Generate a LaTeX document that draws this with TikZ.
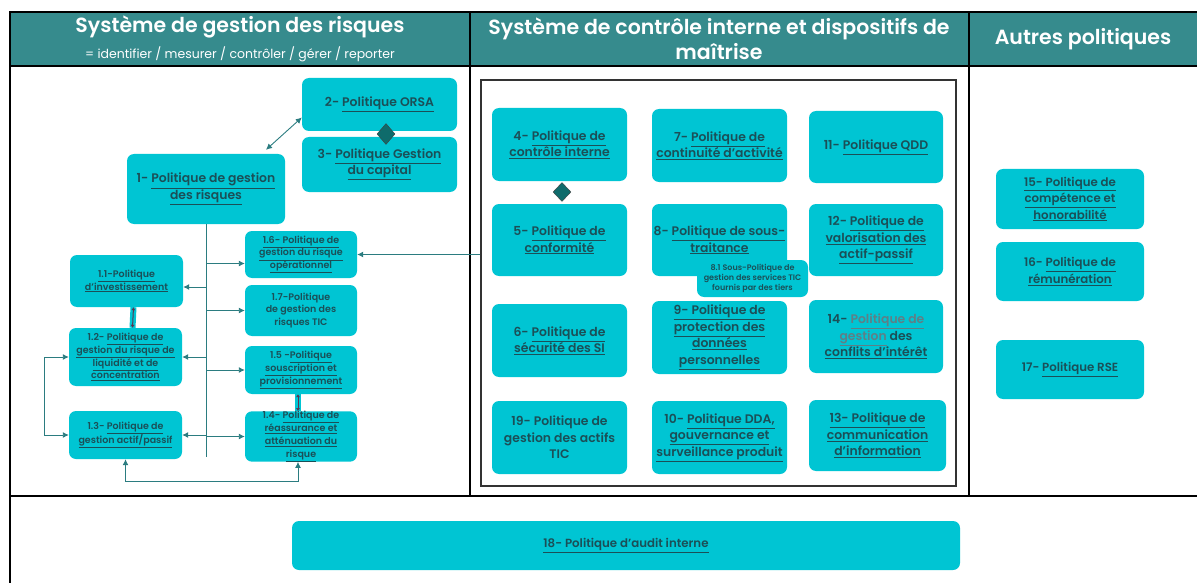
\documentclass[tikz,border=0pt]{standalone}
\usepackage{fontspec}
\setmainfont{Poppins}
\newfontfamily\semi{Poppins}[UprightFont={* SemiBold}]
\usetikzlibrary{positioning, shapes.geometric, arrows.meta}

\definecolor{headteal}{HTML}{368B8D}
\definecolor{boxcyan}{HTML}{00C5D3}
\definecolor{txtteal}{HTML}{1B4F57}
\definecolor{txtgray}{HTML}{5F7F86}
\definecolor{arrteal}{HTML}{2B7C80}
\definecolor{diamteal}{HTML}{0F6B6B}
\definecolor{arrplum}{HTML}{5A3552}
\newcommand{\lien}[1]{\underline{#1}}

\tikzset{
  pol/.style={rounded corners=7pt, fill=boxcyan, text=txtteal, align=center, inner sep=0pt},
  bigtxt/.style={font=\semi\fontsize{12.4}{16.5}\selectfont},
  smalltxt/.style={font=\semi\fontsize{9.5}{12.8}\selectfont},
  sidetxt/.style={font=\semi\fontsize{11.8}{16.5}\selectfont},
  leftbox/.style={pol, smalltxt, minimum width=112pt, minimum height=48pt},
  midbox/.style={pol, bigtxt, minimum width=135pt, minimum height=72pt},
  sidebox/.style={pol, sidetxt, minimum width=148pt, minimum height=59pt},
  arr/.style={draw=arrteal, line width=0.9pt, -{Latex[length=6pt,width=6pt]}},
  dblarr/.style={draw=arrteal, line width=0.9pt, {Latex[length=6pt,width=6pt]}-{Latex[length=6pt,width=6pt]}},
  tinyarr/.style={draw=arrplum, line width=1pt, {Latex[length=3pt,width=4pt]}-{Latex[length=3pt,width=4pt]},
    preaction={draw=boxcyan, line width=6pt, arrows=-}},
  joint/.style={diamond, draw=black!75, fill=diamteal, minimum width=18pt, minimum height=21pt, inner sep=0pt},
  headtxt/.style={text=white, font=\semi\fontsize{20.5}{25}\selectfont, align=center},
  rule/.style={line width=1.2pt},
}

\begin{document}
\begin{tikzpicture}[x=1pt, y=-1pt]
\useasboundingbox (0,0) rectangle (1197,583);

% table
\fill[headteal] (10,12) rectangle (1197,66);
\draw[rule] (1197,12) -- (10,12) -- (10,583);
\draw[rule] (10,66) -- (1197,66);
\draw[rule] (470,12) -- (470,496);
\draw[rule] (969,12) -- (969,496);
\draw[rule] (10,496) -- (1197,496);

\node[headtxt] (head1) at (240,27) {Système de gestion des risques};
\node[text=white, font=\fontsize{12.5}{14}\selectfont] (head1sub) at (240,54) {= identifier / mesurer / contrôler / gérer / reporter};
\node[headtxt] (head2) at (719,39) {Système de contrôle interne et dispositifs de\\maîtrise};
\node[headtxt] (head3) at (1083,39) {Autres politiques};

% systeme de gestion des risques
\node[pol, bigtxt, minimum width=155pt, minimum height=53pt] at (379.5,104.5) (orsa) {2- \lien{Politique ORSA}};
\node[pol, bigtxt, minimum width=155pt, minimum height=55pt] at (379.5,164.5) (capital) {3- \lien{Politique Gestion}\\\lien{du capital}};
\node[joint] at (386,134) (join23) {};
\node[pol, bigtxt, minimum width=158pt, minimum height=70pt] at (206,189) (pgr) {1- \lien{Politique de gestion}\\\lien{des risques}};

\node[leftbox, minimum height=47pt] at (301,254.5) (risqop) {\lien{1.6- Politique de}\\\lien{gestion du risque}\\\lien{opérationnel}};
\node[leftbox, minimum width=113pt, minimum height=52pt] at (126.5,281) (invest) {\lien{1.1-Politique}\\\lien{d’investissement}};
\node[leftbox, minimum height=51pt] at (301,310.5) (tic) {1.7-Politique\\de gestion des\\risques TIC};
\node[leftbox, minimum width=113pt, minimum height=58pt] at (125.5,357) (liquid) {1.2- \lien{Politique de}\\\lien{gestion du risque de}\\\lien{liquidité et de}\\\lien{concentration}};
\node[leftbox] at (301,370) (souscr) {1.5 -\lien{Politique}\\\lien{souscription et}\\\lien{provisionnement}};
\node[leftbox, minimum width=113pt] at (125.5,435) (actpas) {1.3- \lien{Politique de}\\\lien{gestion actif/passif}};
\node[leftbox, minimum height=49pt] at (301,436.5) (reass) {1.4- \lien{Politique de}\\\lien{réassurance et}\\\lien{atténuation du}\\\lien{risque}};

\coordinate (trunk) at (206,457);
\coordinate (risqopin) at ([yshift=-9pt]risqop.west);
\coordinate (investin) at ([yshift=-6pt]invest.east);
\draw[draw=arrteal, line width=0.9pt] (pgr.south) -- (trunk);
\draw[arr] (trunk |- risqopin) -- (risqopin);
\draw[arr] (trunk |- investin) -- (investin);
\draw[arr] (trunk |- tic.west) -- (tic.west);
\draw[arr] (trunk |- liquid.east) -- (liquid.east);
\draw[arr] (trunk |- souscr.west) -- (souscr.west);
\draw[arr] (trunk |- actpas.east) -- (actpas.east);
\draw[arr] (trunk |- reass.west) -- (reass.west);

\draw[dblarr] ([xshift=60pt,yshift=4pt]pgr.north) -- ([yshift=-13pt]orsa.west);
\draw[dblarr] (liquid.west) -- ++(-24,0) |- (actpas.west);
\draw[dblarr] (actpas.south) -- ++(0,22) -| ([xshift=-3pt]reass.south);
\draw[tinyarr] ([xshift=7pt]invest.south) -- ([xshift=7pt]liquid.north);
\draw[tinyarr] ([xshift=-3pt]souscr.south) -- ([xshift=-3pt]reass.north);

% controle interne
\node[draw=black!80, line width=1.2pt, minimum width=475pt, minimum height=406pt, inner sep=0pt] at (718.5,283) (inner) {};

\node[midbox, minimum height=73pt] at (559.5,144.5) (ctrl) {4- \lien{Politique de}\\\lien{contrôle interne}};
\node[midbox] at (559.5,240) (conf) {5- \lien{Politique de}\\\lien{conformité}};
\node[joint, minimum height=19pt] at (562,192) (join45) {};
\node[midbox, minimum height=73pt] at (719.5,145.5) (contin) {7- \lien{Politique de}\\\lien{continuité d’activité}};
\node[midbox] at (719.5,240) (soustr) {8- \lien{Politique de sous-}\\\lien{traitance}};
\node[pol, font=\semi\fontsize{8}{10}\selectfont, minimum width=111pt, minimum height=37pt] at (752.5,278.5) (servtic) {8.1 Sous-Politique de\\gestion des services TIC\\fournis par des tiers};
\node[midbox, minimum width=134pt] at (876,147) (qdd) {11- \lien{Politique QDD}};
\node[midbox, minimum width=134pt] at (876,240) (valo) {12- \lien{Politique de}\\\lien{valorisation des}\\\lien{actif-passif}};
\node[midbox, minimum height=73pt] at (559.5,340.5) (secu) {6- \lien{Politique de}\\\lien{sécurité des SI}};
\node[midbox, minimum height=73pt] at (719.5,337.5) (donnees) {\lien{9- Politique de}\\\lien{protection des}\\\lien{données}\\\lien{personnelles}};
\node[midbox, minimum width=134pt, minimum height=73pt] at (876,336.5) (conflits) {14- {\color{txtgray}\lien{Politique de}}\\{\color{txtgray}\lien{gestion}} des\\\lien{conflits d’intérêt}};
\node[midbox, minimum height=73pt] at (559.5,437.5) (actifs) {19- Politique de\\gestion des actifs\\TIC};
\node[midbox, minimum height=73pt] at (719.5,437.5) (dda) {10- \lien{Politique DDA,}\\\lien{gouvernance et}\\\lien{surveillance produit}};
\node[midbox, minimum width=137pt, minimum height=71pt] at (877.5,435.5) (commu) {\lien{13- Politique de}\\\lien{communication}\\\lien{d’information}};

\draw[arr] (inner.west |- risqop.east) -- (risqop.east);

% autres politiques
\node[sidebox, minimum height=60pt] at (1070,199) (honor) {\lien{15- Politique de}\\\lien{compétence et}\\\lien{honorabilité}};
\node[sidebox] at (1070,271.5) (remun) {16- \lien{Politique de}\\\lien{rémunération}};
\node[sidebox] at (1070,369.5) (rse) {17- \lien{Politique RSE}};

% audit
\node[pol, sidetxt, minimum width=668pt, minimum height=49pt] at (626,545.5) (audit) {\lien{18- Politique d’audit interne}};
\end{tikzpicture}
\end{document}
